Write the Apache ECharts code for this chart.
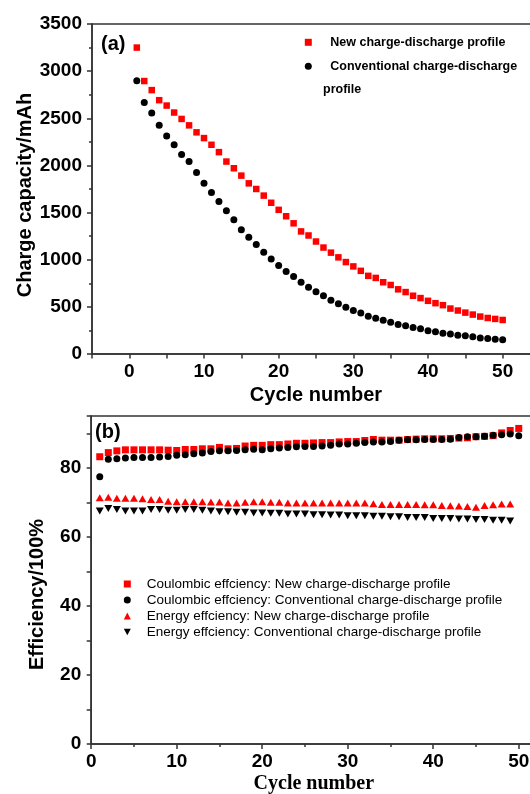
<!DOCTYPE html>
<html>
<head>
<meta charset="utf-8">
<script src="https://cdn.jsdelivr.net/npm/echarts@6/dist/echarts.min.js"></script>
<style>
html, body { margin: 0; padding: 0; background: #fff; }
#main { width: 530px; height: 794px; }
</style>
</head>
<body>
<div id="main"></div>
<script>
// cycle numbers
var cycles = [1, 2, 3, 4, 5, 6, 7, 8, 9, 10, 11, 12, 13, 14, 15, 16, 17, 18, 19, 20,
  21, 22, 23, 24, 25, 26, 27, 28, 29, 30, 31, 32, 33, 34, 35, 36, 37, 38, 39, 40,
  41, 42, 43, 44, 45, 46, 47, 48, 49, 50];

// (a) charge capacity / mAh
var newCharge = [3250, 2895, 2799, 2692, 2635, 2561, 2493, 2425, 2351, 2290,
  2219, 2141, 2041, 1970, 1892, 1810, 1750, 1680, 1604, 1529,
  1461, 1386, 1300, 1257, 1193, 1129, 1075, 1025, 975, 929,
  882, 829, 807, 761, 732, 686, 657, 618, 593, 564,
  539, 518, 482, 461, 439, 418, 397, 382, 372, 361];
var convCharge = [2898, 2667, 2557, 2425, 2312, 2219, 2116, 2041, 1924, 1812,
  1714, 1618, 1518, 1425, 1318, 1239, 1161, 1079, 1007, 939,
  875, 822, 761, 707, 661, 618, 571, 532, 496, 461,
  436, 400, 379, 357, 336, 314, 300, 282, 268, 246,
  236, 221, 211, 200, 193, 182, 171, 164, 157, 150];

// (b) efficiency / %
var coulNew = [83.2, 84.4, 84.9, 85.2, 85.2, 85.2, 85.2, 85.2, 85.1, 85.0,
  85.3, 85.3, 85.5, 85.5, 85.9, 85.5, 85.6, 86.3, 86.5, 86.5,
  86.7, 86.7, 86.9, 87.1, 87.1, 87.2, 87.3, 87.3, 87.5, 87.6,
  87.6, 87.9, 88.2, 88.0, 88.0, 88.0, 88.2, 88.3, 88.4, 88.4,
  88.4, 88.5, 88.6, 88.7, 89.0, 89.1, 89.3, 90.1, 90.8, 91.4];
var coulConv = [77.4, 82.5, 82.6, 82.8, 83.0, 83.0, 83.0, 83.1, 83.3, 83.6,
  83.8, 84.1, 84.3, 84.7, 84.9, 84.9, 85.0, 85.2, 85.4, 85.2,
  85.5, 85.7, 85.9, 86.1, 86.2, 86.2, 86.3, 86.5, 86.9, 86.9,
  87.1, 87.3, 87.5, 87.5, 87.6, 88.0, 88.1, 88.1, 88.2, 88.2,
  88.2, 88.3, 88.8, 89.0, 89.0, 89.1, 89.4, 89.6, 89.8, 89.3];
var energyNew = [71.3, 71.5, 71.2, 71.2, 71.2, 71.0, 70.8, 70.8, 70.3, 70.2,
  70.2, 70.2, 70.2, 70.1, 70.1, 69.8, 69.8, 70.0, 70.2, 70.2,
  70.0, 70.0, 69.8, 69.8, 69.8, 69.8, 69.8, 69.8, 69.8, 69.8,
  69.8, 69.8, 69.6, 69.4, 69.4, 69.4, 69.4, 69.4, 69.3, 69.3,
  69.1, 69.0, 68.9, 68.8, 68.6, 69.1, 69.3, 69.5, 69.5];
var energyConv = [67.5, 68.2, 67.9, 67.5, 67.5, 67.5, 67.9, 67.9, 67.7, 67.7,
  67.9, 67.9, 67.7, 67.5, 67.3, 67.3, 67.1, 67.1, 66.9, 66.9,
  66.8, 66.8, 66.6, 66.6, 66.6, 66.4, 66.4, 66.3, 66.3, 66.1,
  66.1, 66.1, 66.0, 66.0, 65.8, 65.8, 65.6, 65.6, 65.6, 65.3,
  65.3, 65.3, 65.2, 65.2, 65.0, 65.0, 64.8, 64.8, 64.6];

// labelled ticks
var xTicks = [0, 10, 20, 30, 40, 50];
var yTicksB = [0, 20, 40, 60, 80];

function pairs(vals) {
  return vals.map(function (v, i) { return [cycles[i], v]; });
}

var axisCol = '#333';
var sans = '"Liberation Sans", Arial, sans-serif';

var chart = echarts.init(document.getElementById('main'));

var option = {
  animation: false,
  textStyle: { fontFamily: sans },
  title: [
    { text: '(a)', left: 101, top: 34, padding: 0,
      textStyle: { fontSize: 20, fontWeight: 'bold', color: '#000', lineHeight: 20 } },
    { text: '(b)', left: 95, top: 422, padding: 0,
      textStyle: { fontSize: 20, fontWeight: 'bold', color: '#000', lineHeight: 20 } }
  ],
  legend: [
    {
      data: [
        { name: 'New charge-discharge profile', icon: 'rect' },
        { name: 'Conventional charge-discharge profile', icon: 'circle' }
      ],
      formatter: function (name) {
        return name === 'Conventional charge-discharge profile' ? 'Conventional charge-discharge' : name;
      },
      orient: 'vertical', left: 304.8, top: 30.3, padding: 0,
      itemWidth: 7, itemHeight: 7, itemGap: 0, selectedMode: false,
      itemStyle: { opacity: 1 },
      textStyle: { fontSize: 12.5, fontWeight: 'bold', color: '#000', lineHeight: 24, padding: [0, 0, 0, 13.5] }
    },
    {
      data: [
        { name: 'Coulombic effciency: New charge-discharge profile', icon: 'rect' },
        { name: 'Coulombic effciency: Conventional charge-discharge profile', icon: 'circle' },
        { name: 'Energy effciency: New charge-discharge profile', icon: 'triangle' },
        { name: 'Energy effciency: Conventional charge-discharge profile', icon: 'path://M0,0 L10,0 L5,9 Z' }
      ],
      orient: 'vertical', left: 123.8, top: 576, padding: 0,
      itemWidth: 7, itemHeight: 7, itemGap: 0, selectedMode: false,
      itemStyle: { opacity: 1 },
      textStyle: { fontSize: 13.5, color: '#000', lineHeight: 16, padding: [0, 0, 0, 11] }
    }
  ],
  graphic: [
    { type: 'text', left: 323, top: 83,
      style: { text: 'profile', fill: '#000', font: 'bold 12.5px ' + sans } }
  ],
  grid: [
    { left: 92, top: 24, right: -10, bottom: 440, show: true, borderColor: axisCol, borderWidth: 1.5,
      containLabel: false, outerBoundsMode: 'none' },
    { left: 91.2, top: 416, right: -31.5, bottom: 50, show: true, borderColor: axisCol, borderWidth: 1.5,
      containLabel: false, outerBoundsMode: 'none' }
  ],
  xAxis: [
    {
      gridIndex: 0, type: 'value', min: -5, max: 55, interval: 5,
      axisLine: { show: true, onZero: false, lineStyle: { color: axisCol, width: 1.5 } },
      axisTick: { show: true, inside: false, length: 4.5, lineStyle: { color: axisCol, width: 1.5 } },
      splitLine: { show: false },
      axisLabel: {
        margin: 8, fontSize: 19, fontWeight: 'bold', color: '#000',
        formatter: function (v) { return xTicks.indexOf(v) >= 0 ? String(v) : ''; }
      },
      name: 'Cycle number', nameLocation: 'middle', nameGap: 31, nameMoveOverlap: false,
      nameTextStyle: { fontSize: 20, fontWeight: 'bold', color: '#000', lineHeight: 20 }
    },
    {
      gridIndex: 1, type: 'value', min: 0, max: 55, interval: 10,
      axisLine: { show: true, onZero: false, lineStyle: { color: axisCol, width: 1.5 } },
      axisTick: { show: true, inside: false, length: 5, lineStyle: { color: axisCol, width: 1.5 } },
      minorTick: { show: true, splitNumber: 2, length: 3, lineStyle: { color: axisCol, width: 1.5 } },
      splitLine: { show: false },
      axisLabel: {
        margin: 8, fontSize: 19, fontWeight: 'bold', color: '#000',
        formatter: function (v) { return xTicks.indexOf(v) >= 0 ? String(v) : ''; }
      },
      name: 'Cycle number', nameLocation: 'middle', nameGap: 30, nameMoveOverlap: false,
      nameTextStyle: { fontSize: 20, fontWeight: 'bold', color: '#000', lineHeight: 20,
        fontFamily: '"Liberation Serif", "Times New Roman", serif', padding: [0, 25, 0, 0] }
    }
  ],
  yAxis: [
    {
      gridIndex: 0, type: 'value', min: 0, max: 3500, interval: 500,
      axisLine: { show: true, onZero: false, lineStyle: { color: axisCol, width: 1.5 } },
      axisTick: { show: true, inside: false, length: 5, lineStyle: { color: axisCol, width: 1.5 } },
      minorTick: { show: true, splitNumber: 2, length: 3, lineStyle: { color: axisCol, width: 1.5 } },
      splitLine: { show: false },
      axisLabel: { margin: 10, fontSize: 19, fontWeight: 'bold', color: '#000',
        formatter: function (v) { return String(v); } },
      name: 'Charge capacity/mAh', nameLocation: 'middle', nameRotate: 90, nameGap: 57, nameMoveOverlap: false,
      nameTextStyle: { fontSize: 20, fontWeight: 'bold', color: '#000', lineHeight: 20, padding: [0, 12, 0, 0] }
    },
    {
      gridIndex: 1, type: 'value', min: 0, max: 95, interval: 10,
      axisLine: { show: true, onZero: false, lineStyle: { color: axisCol, width: 1.5 } },
      axisTick: { show: true, inside: false, length: 4.5, lineStyle: { color: axisCol, width: 1.5 } },
      splitLine: { show: false },
      axisLabel: {
        margin: 10, fontSize: 19, fontWeight: 'bold', color: '#000',
        formatter: function (v) { return yTicksB.indexOf(v) >= 0 ? String(v) : ''; }
      },
      name: 'Efficiency/100%', nameLocation: 'middle', nameRotate: 90, nameGap: 44, nameMoveOverlap: false,
      nameTextStyle: { fontSize: 20, fontWeight: 'bold', color: '#000', lineHeight: 20, padding: [0, 29, 0, 0] }
    }
  ],
  series: [
    { name: 'New charge-discharge profile', type: 'scatter', xAxisIndex: 0, yAxisIndex: 0,
      symbol: 'rect', symbolSize: 6.5, itemStyle: { color: '#ff0000', opacity: 1 }, data: pairs(newCharge) },
    { name: 'Conventional charge-discharge profile', type: 'scatter', xAxisIndex: 0, yAxisIndex: 0,
      symbol: 'circle', symbolSize: 7, itemStyle: { color: '#000', opacity: 1 }, data: pairs(convCharge) },
    { name: 'Coulombic effciency: New charge-discharge profile', type: 'scatter', xAxisIndex: 1, yAxisIndex: 1,
      symbol: 'rect', symbolSize: 7, itemStyle: { color: '#ff0000', opacity: 1 }, data: pairs(coulNew) },
    { name: 'Coulombic effciency: Conventional charge-discharge profile', type: 'scatter', xAxisIndex: 1, yAxisIndex: 1,
      symbol: 'circle', symbolSize: 7, itemStyle: { color: '#000', opacity: 1 }, data: pairs(coulConv) },
    { name: 'Energy effciency: New charge-discharge profile', type: 'scatter', xAxisIndex: 1, yAxisIndex: 1,
      symbol: 'triangle', symbolSize: [8, 7], itemStyle: { color: '#ff0000', opacity: 1 }, data: pairs(energyNew) },
    { name: 'Energy effciency: Conventional charge-discharge profile', type: 'scatter', xAxisIndex: 1, yAxisIndex: 1,
      symbol: 'triangle', symbolRotate: 180, symbolSize: [8, 7], itemStyle: { color: '#000', opacity: 1 }, data: pairs(energyConv) }
  ]
};

chart.setOption(option);
</script>
</body>
</html>
